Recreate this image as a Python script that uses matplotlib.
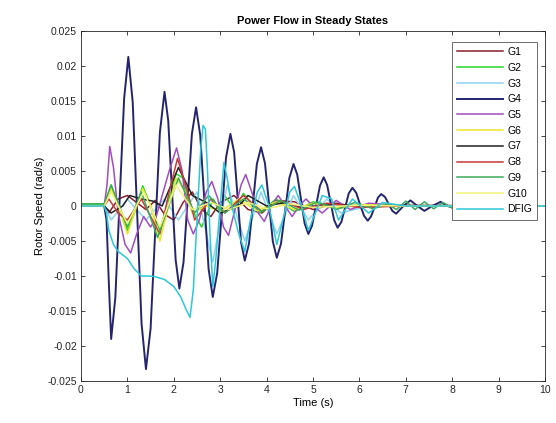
import matplotlib
matplotlib.use("Agg")
import matplotlib.pyplot as plt

plt.rcParams['font.family'] = ['Liberation Sans', 'DejaVu Sans']

# ---------------- data ----------------
g1_t = [0, 0.5, 0.6, 0.8, 1.0, 1.2, 1.4, 1.6, 1.8, 2.0, 2.2, 2.4, 2.6, 2.8, 3.0, 3.3, 3.6, 3.9, 4.2, 4.6, 5.0, 5.5, 6.0, 7.0, 10]
g1_v = [0, 0, -0.001, 0.001, 0.0015, 0.0005, -0.0005, 0.0008, -0.0012, -0.002, 0.0005, 0.002, -0.0005, -0.0015, 0.0005, 0.0015, -0.0005, -0.001, 0.0008, 0.0006, -0.0005, 0.0004, -0.0002, 0.0001, 0]

g2_t = [0, 0.5, 0.6, 0.65, 0.8, 1.0, 1.15, 1.33, 1.5, 1.7, 1.85, 2.05, 2.2, 2.35, 2.6, 2.85, 3.0, 3.1, 3.3, 3.5, 3.85, 4.2, 4.6, 5.0, 5.5, 6.0, 7.0, 10]
g2_v = [0.0003, 0.0003, 0.002, 0.003, 0.0, -0.0035, -0.001, 0.0029, 0.0, -0.0035, 0.0, 0.0046, 0.004, 0.0, -0.003, 0.001, -0.001, 0.0015, -0.0005, 0.0018, -0.001, 0.001, -0.0008, 0.0006, -0.0004, 0.0002, 0, 0]

g3_t = [0, 0.5, 0.65, 1.0, 1.4, 1.8, 2.1, 2.5, 2.84, 3.15, 3.53, 3.88, 4.22, 4.58, 4.9, 5.3, 5.6, 6.2, 10]
g3_v = [0, 0, -0.002, 0.001, -0.002, 0.001, -0.002, 0.002, -0.008, 0.003, -0.005, 0.002, -0.004, 0.0015, -0.002, 0.001, -0.001, 0, 0]

g4_t = [0, 0.5, 0.55, 0.6, 0.65, 0.74, 0.835, 0.93, 1.02, 1.115, 1.21, 1.305, 1.40,
        1.50, 1.60, 1.70, 1.80, 1.88, 1.96, 2.04, 2.12, 2.21, 2.30, 2.39, 2.48,
        2.57, 2.66, 2.75, 2.84, 2.935, 3.03, 3.125, 3.22, 3.30, 3.375, 3.45, 3.53,
        3.62, 3.705, 3.79, 3.88, 3.965, 4.05, 4.135, 4.22, 4.31, 4.40, 4.49, 4.58,
        4.66, 4.74, 4.82, 4.90, 4.98, 5.065, 5.15, 5.23, 5.305, 5.38, 5.455, 5.53,
        5.61, 5.69, 5.77, 5.85, 5.93, 6.015, 6.10, 6.18, 6.25, 6.325, 6.40, 6.47,
        6.55, 6.63, 6.71, 6.79, 6.95, 7.1, 7.25, 7.4, 7.57, 7.75, 7.9, 8.05, 8.4, 10]
g4_v = [0, 0, -0.002, -0.011, -0.0190, -0.0131, 0.0012, 0.0154, 0.0213, 0.0148, -0.001, -0.0168, -0.0233,
        -0.0175, -0.0035, 0.0105, 0.0163, 0.0122, 0.0022, -0.0077, -0.0118, -0.0080, 0.0012, 0.0103, 0.0141,
        0.0101, 0.0006, -0.0090, -0.0130, -0.0096, -0.0014, 0.0069, 0.0103, 0.0077, 0.0013, -0.0052, -0.0078,
        -0.0054, 0.0003, 0.0060, 0.0084, 0.0061, 0.0005, -0.0051, -0.0074, -0.0054, -0.0007, 0.0040, 0.0060,
        0.0045, 0.0010, -0.0025, -0.0040, -0.0028, 0.0, 0.0029, 0.0041, 0.0030, 0.0005, -0.0020, -0.0031,
        -0.0023, -0.0003, 0.0018, 0.0026, 0.0019, 0.0002, -0.0014, -0.0021, -0.0015, -0.0002, 0.0012, 0.0017,
        0.0013, 0.0003, -0.0007, -0.0011, 0.0, 0.0008, 0.0, -0.0007, 0.0, 0.0006, 0.0, -0.0003, 0.0001, 0]

g5_t = [0, 0.5, 0.56, 0.62, 0.7, 0.8, 0.95, 1.07, 1.2, 1.35, 1.5, 1.6, 1.75, 1.9, 2.06, 2.18, 2.3, 2.42, 2.55, 2.7, 2.82, 2.95, 3.07, 3.18, 3.3, 3.45, 3.55, 3.68, 3.82, 3.95, 4.1, 4.25, 4.4, 4.55, 4.7, 4.85, 5.0, 5.2, 5.5, 5.8, 6.2, 7.0, 10]
g5_v = [0, 0, 0.003, 0.0085, 0.0055, -0.001, -0.0055, -0.0067, -0.004, -0.0015, -0.003, -0.002, 0.0015, 0.005, 0.0083, 0.005, -0.002, -0.004, -0.002, 0.002, 0.0035, 0.001, -0.003, -0.0042, -0.001, 0.003, 0.0045, 0.002, -0.001, -0.0022, 0.0, 0.0015, 0.0, -0.0015, 0.0, 0.001, 0.0, -0.001, 0.0008, -0.0005, 0.0004, 0, 0]

g6_t = [0, 0.5, 0.65, 0.8, 1.0, 1.15, 1.33, 1.5, 1.7, 1.85, 2.05, 2.25, 2.4, 2.7, 3.0, 3.4, 3.8, 4.2, 4.6, 5.0, 5.5, 6.0, 7.0, 10]
g6_v = [0, 0, 0.0025, 0.0, -0.004, -0.001, 0.0025, 0.0, -0.005, -0.001, 0.004, 0.002, -0.001, 0.0, -0.0008, 0.001, -0.0007, 0.0006, -0.0005, 0.0004, -0.0003, 0.0002, 0, 0]

g7_t = [0, 0.5, 0.65, 0.9, 1.05, 1.3, 1.55, 1.75, 2.1, 2.4, 2.7, 3.0, 3.4, 3.6, 4.0, 4.4, 4.8, 5.3, 6.0, 7.0, 10]
g7_v = [0, 0, -0.001, 0.0, 0.0015, 0.001, 0.0007, 0.0, 0.0055, 0.0015, 0.0005, -0.001, 0.0, 0.0015, 0.0, 0.0005, -0.0003, 0.0003, 0.0, 0, 0]

g8_t = [0, 0.5, 0.6, 0.8, 1.0, 1.3, 1.7, 1.9, 2.08, 2.3, 2.45, 2.8, 3.1, 3.5, 3.9, 4.3, 4.8, 5.3, 6.0, 7.0, 10]
g8_v = [0, 0, 0.001, -0.001, -0.002, 0.001, -0.004, 0.002, 0.0068, 0.002, -0.002, 0.001, -0.001, 0.0015, -0.0008, 0.0008, -0.0005, 0.0004, -0.0002, 0, 0]

g9_t = [0, 0.5, 0.65, 1.0, 1.3, 1.65, 2.1, 2.45, 2.75, 3.1, 3.5, 3.9, 4.3, 4.7, 5.1, 5.5, 5.9, 6.3, 6.6, 6.8, 7.0, 7.2, 7.4, 7.6, 7.8, 8.0, 8.3, 8.6, 10]
g9_v = [0.0003, 0.0003, 0.003, -0.003, 0.002, -0.0045, 0.004, -0.001, 0.0015, -0.001, 0.001, -0.0008, 0.0008, -0.0006, 0.0006, -0.0005, 0.0005, -0.0004, 0.0003, -0.0005, 0.0007, -0.0005, 0.0006, -0.0004, 0.0005, -0.0003, 0.0002, 0, 0]

g10_t = [0, 0.5, 0.65, 1.0, 1.35, 1.7, 2.05, 2.4, 2.8, 3.2, 3.6, 4.0, 4.5, 5.0, 6.0, 7.0, 10]
g10_v = [0, 0, 0.002, -0.0025, 0.002, -0.003, 0.003, -0.0005, 0.0005, -0.0005, 0.0005, -0.0004, 0.0003, -0.0002, 0.0001, 0, 0]

dfig_t = [0, 0.5, 0.55, 0.6, 0.7, 0.8, 1.0, 1.15, 1.3, 1.45, 1.6, 1.8, 2.0, 2.15, 2.28, 2.35, 2.42, 2.5, 2.58, 2.63, 2.68, 2.72, 2.78, 2.84, 2.9, 3.0, 3.08, 3.15, 3.25, 3.4, 3.53, 3.65, 3.8, 3.9, 4.05, 4.22, 4.35, 4.5, 4.6, 4.75, 4.9, 5.05, 5.2, 5.4, 5.55, 5.85, 6.2, 6.5, 7.0, 10]
dfig_v = [0, 0, -0.001, -0.0035, -0.0055, -0.0065, -0.0075, -0.0090, -0.0100, -0.0100, -0.0101, -0.0105, -0.0115, -0.0130, -0.0150, -0.0159, -0.0120, -0.0020, 0.0080, 0.0115, 0.0110, 0.0060, -0.0040, -0.0115, -0.0080, 0.0, 0.0062, 0.0040, 0.0, -0.0040, -0.0065, -0.0020, 0.0020, 0.0030, 0.0, -0.0055, -0.0020, 0.0020, 0.0028, 0.0, -0.0035, -0.0010, 0.0015, 0.0010, -0.0020, 0.0010, -0.0010, 0.0005, 0, 0]

labels = ['G1', 'G2', 'G3', 'G4', 'G5', 'G6', 'G7', 'G8', 'G9', 'G10', 'DFIG']
colors = ['#8B1E2B', '#2BD42B', '#8FD3F0', '#25256F', '#A24CC0', '#E8E82A',
          '#222222', '#C83A3A', '#3DAA5A', '#F2F27A', '#2CC8D8']
series_t = [g1_t, g2_t, g3_t, g4_t, g5_t, g6_t, g7_t, g8_t, g9_t, g10_t, dfig_t]
series_v = [g1_v, g2_v, g3_v, g4_v, g5_v, g6_v, g7_v, g8_v, g9_v, g10_v, dfig_v]

xticks = [0, 1, 2, 3, 4, 5, 6, 7, 8, 9, 10]
yticks = [-0.025, -0.02, -0.015, -0.01, -0.005, 0, 0.005, 0.01, 0.015, 0.02, 0.025]
ytick_labels = ['-0.025', '-0.02', '-0.015', '-0.01', '-0.005', '0', '0.005', '0.01', '0.015', '0.02', '0.025']

title = 'Power Flow in Steady States'
xlabel = 'Time (s)'
ylabel = 'Rotor Speed (rad/s)'

# ---------------- figure ----------------
fig = plt.figure(figsize=(5.56, 4.23), dpi=100)
ax = fig.add_axes([81 / 556, 1 - 381 / 423, (545 - 81) / 556, (381 - 31) / 423])

for t, v, c, lab in zip(series_t, series_v, colors, labels):
    lw = 1.4 if lab == 'G4' else 1.1
    ax.plot(t, v, color=c, lw=lw, label=lab)

ax.set_xlim(0, 10)
ax.set_ylim(-0.025, 0.025)
ax.set_xticks(xticks)
ax.set_xticklabels([str(x) for x in xticks])
ax.set_yticks(yticks)
ax.set_yticklabels(ytick_labels)
ax.tick_params(direction='in', length=3, width=0.6, top=True, right=True,
               labelsize=7.5, colors='#262626', pad=3)
for s in ax.spines.values():
    s.set_linewidth(0.6)
    s.set_color('#262626')

ax.set_title(title, fontsize=8, fontweight='bold', pad=5)
ax.set_xlabel(xlabel, fontsize=8, labelpad=2)
ax.set_ylabel(ylabel, fontsize=8, labelpad=2)

leg = ax.legend(loc='upper right', bbox_to_anchor=(0.983, 0.969), borderaxespad=0,
                fontsize=7.5, labelspacing=0.55, handlelength=4.4, handletextpad=0.4,
                fancybox=False, framealpha=1, edgecolor='#555555', borderpad=0.5)
leg.get_frame().set_linewidth(0.6)

fig.savefig('out.png', dpi=100)
